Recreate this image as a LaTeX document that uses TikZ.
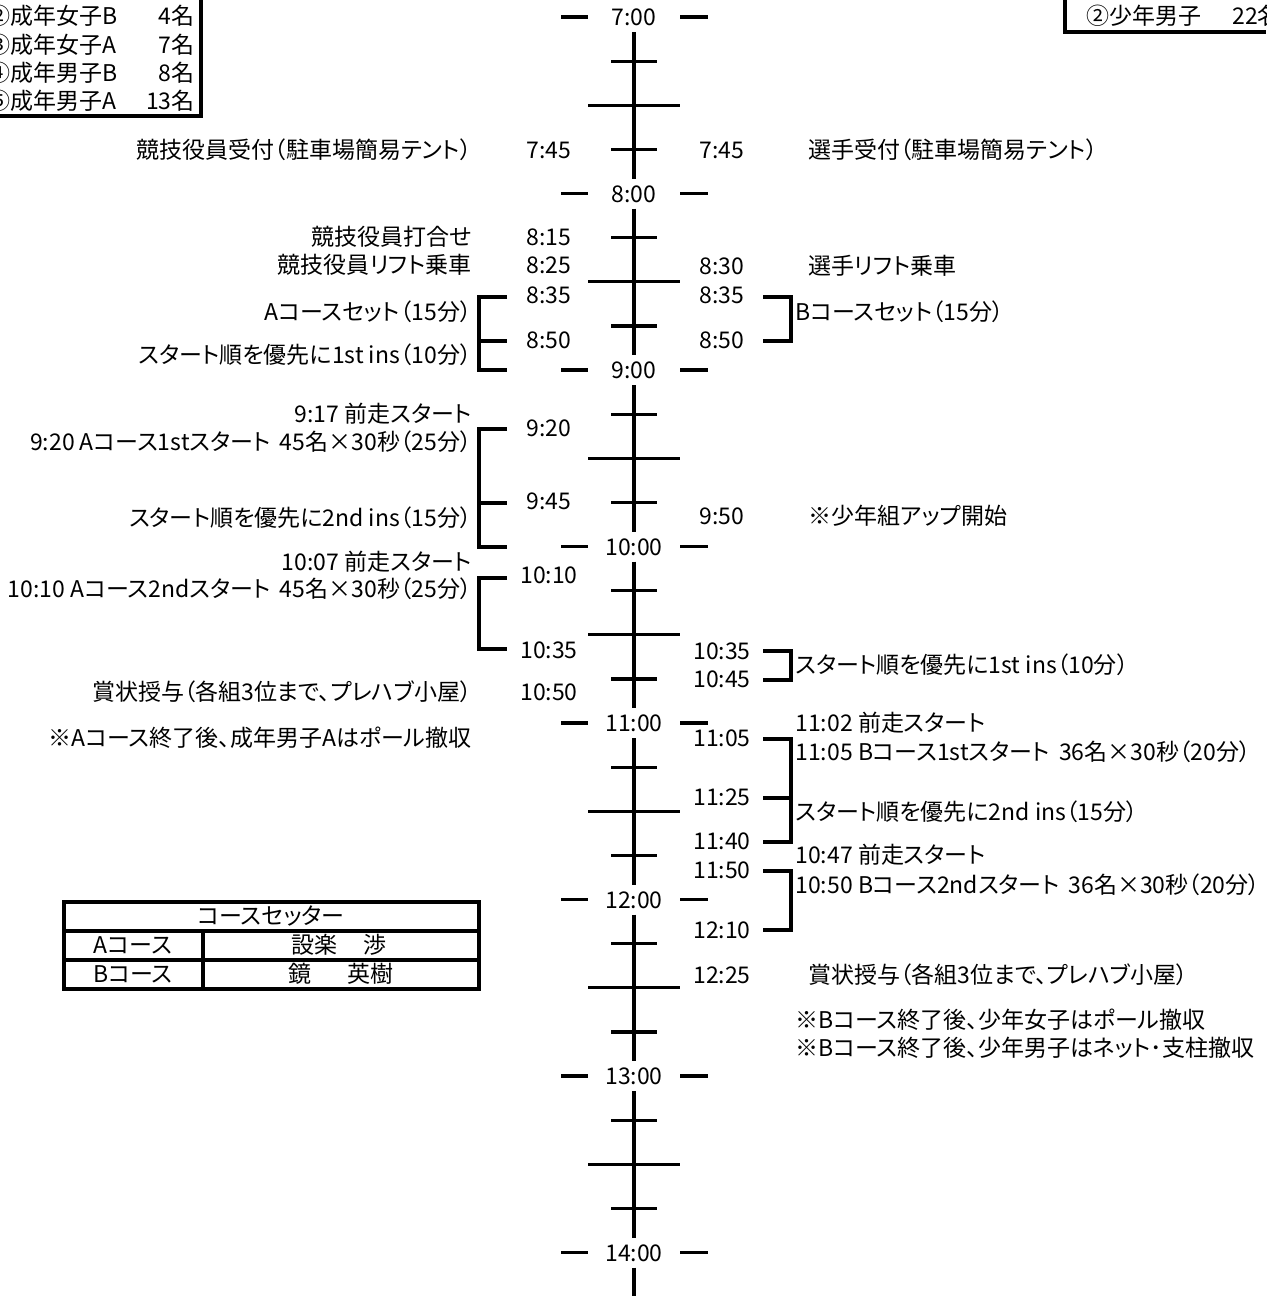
\documentclass[tikz,border=0pt]{standalone}
\usepackage{fontspec}
\setmainfont{Noto Sans CJK JP}[RawFeature=+palt]
\newcommand{\jpsize}{\fontsize{11.5pt}{13pt}\selectfont}
\tikzset{
  bar/.style={line width=1.6pt},
  txt/.style={font=\jpsize, inner sep=0pt, text height=9.4pt, text depth=0.9pt},
  lefttxt/.style={txt, anchor=east},
  righttxt/.style={txt, anchor=west},
}
\begin{document}
\begin{tikzpicture}[x=0.5pt, y=-0.5pt]
    \useasboundingbox (0,0) rectangle (1266,1296);
    \clip (0,0) rectangle (1266,1296);

    % Draw the hour labels
    \node[txt] (h7) at (634,17) {7:00};
    \node[txt] (h8) at (634,193.5) {8:00};
    \node[txt] (h9) at (634,370) {9:00};
    \node[txt] (h10) at (634,546.5) {10:00};
    \node[txt] (h11) at (634,723) {11:00};
    \node[txt] (h12) at (634,899.5) {12:00};
    \node[txt] (h13) at (634,1076) {13:00};
    \node[txt] (h14) at (634,1252.5) {14:00};

    % Draw the time axis with quarter ticks
    \draw[bar] (634,32) -- (634,178.5) (611,61.1) -- (657,61.1) (588,105.3) -- (680,105.3) (611,149.4) -- (657,149.4);
    \draw[bar] (634,208.5) -- (634,355) (611,237.6) -- (657,237.6) (588,281.8) -- (680,281.8) (611,325.9) -- (657,325.9);
    \draw[bar] (634,385) -- (634,531.5) (611,414.1) -- (657,414.1) (588,458.3) -- (680,458.3) (611,502.4) -- (657,502.4);
    \draw[bar] (634,561.5) -- (634,708) (611,590.6) -- (657,590.6) (588,634.8) -- (680,634.8) (611,678.9) -- (657,678.9);
    \draw[bar] (634,738) -- (634,884.5) (611,767.1) -- (657,767.1) (588,811.3) -- (680,811.3) (611,855.4) -- (657,855.4);
    \draw[bar] (634,914.5) -- (634,1061) (611,943.6) -- (657,943.6) (588,987.8) -- (680,987.8) (611,1031.9) -- (657,1031.9);
    \draw[bar] (634,1091) -- (634,1237.5) (611,1120.1) -- (657,1120.1) (588,1164.3) -- (680,1164.3) (611,1208.4) -- (657,1208.4);
    \draw[bar] (634,1267.5) -- (634,1296);

    % Draw the dashes beside the hours
    \draw[bar] (561,17) -- (588,17) (680,17) -- (708,17);
    \draw[bar] (561,193.5) -- (588,193.5) (680,193.5) -- (708,193.5);
    \draw[bar] (561,370) -- (588,370) (680,370) -- (708,370);
    \draw[bar] (561,546.5) -- (588,546.5) (680,546.5) -- (708,546.5);
    \draw[bar] (561,723) -- (588,723) (680,723) -- (708,723);
    \draw[bar] (561,899.5) -- (588,899.5) (680,899.5) -- (708,899.5);
    \draw[bar] (561,1076) -- (588,1076) (680,1076) -- (708,1076);
    \draw[bar] (561,1252.5) -- (588,1252.5) (680,1252.5) -- (708,1252.5);

    % Left times
    \node[txt] (lt745) at (549,150) {7:45};
    \node[txt] (lt815) at (549,237) {8:15};
    \node[txt] (lt825) at (549,265) {8:25};
    \node[txt] (lt835) at (549,295) {8:35};
    \node[txt] (lt850) at (549,340) {8:50};
    \node[txt] (lt920) at (549,428) {9:20};
    \node[txt] (lt945) at (549,501) {9:45};
    \node[txt] (lt1010) at (549,575) {10:10};
    \node[txt] (lt1035) at (549,650) {10:35};
    \node[txt] (lt1050) at (549,692) {10:50};

    % Right times
    \node[txt] (rt745) at (722,150) {7:45};
    \node[txt] (rt830) at (722,266) {8:30};
    \node[txt] (rt835) at (722,295) {8:35};
    \node[txt] (rt850) at (722,340) {8:50};
    \node[txt] (rt950) at (722,516) {9:50};
    \node[txt] (rt1035) at (722,651) {10:35};
    \node[txt] (rt1045) at (722,679) {10:45};
    \node[txt] (rt1105) at (722,738) {11:05};
    \node[txt] (rt1125) at (722,797) {11:25};
    \node[txt] (rt1140) at (722,841) {11:40};
    \node[txt] (rt1150) at (722,870) {11:50};
    \node[txt] (rt1210) at (722,930) {12:10};
    \node[txt] (rt1225) at (722,975) {12:25};

    % Left brackets
    \draw[bar] (507,297) -| (479,370) -- (507,370) (479,341) -- (507,341);
    \draw[bar] (507,429) -| (479,547) -- (507,547) (479,503) -- (507,503);
    \draw[bar] (507,578) -| (479,649) -- (507,649);

    % Right brackets
    \draw[bar] (763,297) -| (791,341) -- (763,341);
    \draw[bar] (763,651) -| (791,680) -- (763,680);
    \draw[bar] (763,739) -| (791,842) -- (763,842) (791,798) -- (763,798);
    \draw[bar] (763,871) -| (791,930) -- (763,930);

    % Left side labels
    \node[lefttxt] (la1) at (472,150) {競技役員受付（駐車場簡易テント）};
    \node[lefttxt] (la2) at (472,237) {競技役員打合せ};
    \node[lefttxt] (la3) at (472,265) {競技役員リフト乗車};
    \node[lefttxt] (la4) at (472,312) {Aコースセット（15分）};
    \node[lefttxt] (la5) at (472,355) {スタート順を優先に1st ins（10分）};
    \node[lefttxt] (la6) at (472,414) {9:17 前走スタート};
    \node[lefttxt] (la7) at (472,442) {9:20 Aコース1stスタート\hspace{0.4em}45名×30秒（25分）};
    \node[lefttxt] (la8) at (472,518) {スタート順を優先に2nd ins（15分）};
    \node[lefttxt] (la9) at (472,562) {10:07 前走スタート};
    \node[lefttxt] (la10) at (472,589) {10:10 Aコース2ndスタート\hspace{0.4em}45名×30秒（25分）};
    \node[lefttxt] (la11) at (472,692) {賞状授与（各組3位まで、プレハブ小屋）};
    \node[lefttxt] (la12) at (472,738) {※Aコース終了後、成年男子Aはポール撤収};

    % Right side labels
    \node[righttxt] (rb1) at (808,150) {選手受付（駐車場簡易テント）};
    \node[righttxt] (rb2) at (808,266) {選手リフト乗車};
    \node[righttxt] (rb3) at (795,312) {Bコースセット（15分）};
    \node[righttxt] (rb4) at (808,516) {※少年組アップ開始};
    \node[righttxt] (rb5) at (795,665) {スタート順を優先に1st ins（10分）};
    \node[righttxt] (rb6) at (795,723) {11:02 前走スタート};
    \node[righttxt] (rb7) at (795,752) {11:05 Bコース1stスタート\hspace{0.4em}36名×30秒（20分）};
    \node[righttxt] (rb8) at (795,812) {スタート順を優先に2nd ins（15分）};
    \node[righttxt] (rb9) at (795,855) {10:47 前走スタート};
    \node[righttxt] (rb10) at (795,885) {10:50 Bコース2ndスタート\hspace{0.4em}36名×30秒（20分）};
    \node[righttxt] (rb11) at (808,975) {賞状授与（各組3位まで、プレハブ小屋）};
    \node[righttxt] (rb12) at (795,1020) {※Bコース終了後、少年女子はポール撤収};
    \node[righttxt] (rb13) at (795,1048) {※Bコース終了後、少年男子はネット･支柱撤収};

    % Entry box, top left
    \draw[bar] (0,116) -- (201,116) -- (201,0);
    \node[righttxt] (cat2) at (-13,16) {②成年女子B};
    \node[righttxt] (cat3) at (-13,45) {③成年女子A};
    \node[righttxt] (cat4) at (-13,73) {④成年男子B};
    \node[righttxt] (cat5) at (-13,101) {⑤成年男子A};
    \node[lefttxt] (num2) at (195,16) {4名};
    \node[lefttxt] (num3) at (195,45) {7名};
    \node[lefttxt] (num4) at (195,73) {8名};
    \node[lefttxt] (num5) at (195,101) {13名};

    % Entry box, top right
    \draw[bar] (1065,0) -- (1065,32) -- (1266,32);
    \node[righttxt] (boy2) at (1086,16) {②少年男子};
    \node[righttxt] (boyn) at (1232,16) {22名};

    % Course setter table
    \draw[bar] (64,902) rectangle (479,989);
    \draw[bar] (64,931) -- (479,931) (64,960) -- (479,960) (203,931) -- (203,989);
    \node[txt] (setter) at (271,916) {コースセッター};
    \node[txt] (crsA) at (133,945) {Aコース};
    \node[txt] (crsB) at (133,974) {Bコース};
    \node[txt] (nameA) at (339,945) {設楽\hspace{1.1em}渉};
    \node[txt] (nameB) at (341,974) {鏡\hspace{1.6em}英樹};
\end{tikzpicture}
\end{document}
